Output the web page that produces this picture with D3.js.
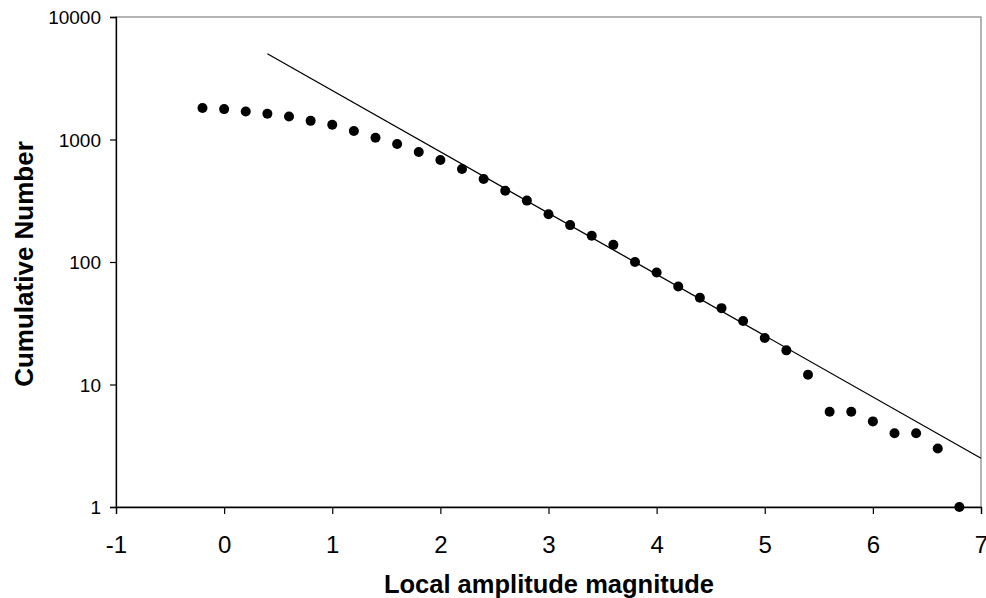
<!DOCTYPE html>
<html>
<head>
<meta charset="utf-8">
<script src="https://cdn.jsdelivr.net/npm/d3@7"></script>
<style>
  html, body { margin: 0; padding: 0; background: #fff; }
  svg { display: block; }
  text { font-family: "Liberation Sans", Arial, sans-serif; fill: #000; }
</style>
</head>
<body>
<svg id="chart" width="986" height="598"></svg>
<script>
const magnitudes = [-0.2, 0, 0.2, 0.4, 0.6, 0.8, 1.0, 1.2, 1.4, 1.6, 1.8, 2.0, 2.2, 2.4, 2.6, 2.8, 3.0, 3.2, 3.4, 3.6, 3.8, 4.0, 4.2, 4.4, 4.6, 4.8, 5.0, 5.2, 5.4, 5.6, 5.8, 6.0, 6.2, 6.4, 6.6, 6.8];
const cumulative = [1810, 1770, 1695, 1625, 1540, 1420, 1320, 1175, 1035, 920, 790, 680, 575, 476, 382, 317, 245, 200, 164, 138, 100, 82, 63, 51, 42, 33, 24, 19, 12, 6, 6, 5, 4, 4, 3, 1];
const fitX = [0.4, 7];
const fitY = [5010, 2.5];
const xTicks = [-1, 0, 1, 2, 3, 4, 5, 6, 7];
const yTicks = [1, 10, 100, 1000, 10000];
const xTitle = "Local amplitude magnitude";
const yTitle = "Cumulative Number";

const svg = d3.select("#chart");
const L = 116, R = 981, T = 17, B = 507;

const x = d3.scaleLinear().domain([-1, 7]).range([L, R]);
const y = d3.scaleLog().domain([1, 10000]).range([B, T]);

// plot area border (top/right gray)
svg.append("rect")
  .attr("x", L).attr("y", T).attr("width", R - L).attr("height", B - T)
  .attr("fill", "none").attr("stroke", "#8c8c8c").attr("stroke-width", 1.3);

// y axis
const yAxis = d3.axisLeft(y).tickValues(yTicks).tickFormat(d3.format("d")).tickSize(6).tickPadding(9);
const gy = svg.append("g").attr("transform", `translate(${L},0)`).call(yAxis);
gy.select(".domain").attr("stroke", "#000").attr("stroke-width", 1.3);
gy.selectAll(".tick line").attr("stroke", "#000").attr("stroke-width", 1.2);
gy.selectAll(".tick text").style("font-size", "19px").attr("dy", "0.35em");

// x axis
const xAxis = d3.axisBottom(x).tickValues(xTicks).tickFormat(d3.format("d")).tickSize(7).tickPadding(22);
const gx = svg.append("g").attr("transform", `translate(0,${B})`).call(xAxis);
gx.select(".domain").attr("stroke", "#000").attr("stroke-width", 1.3);
gx.selectAll(".tick line").attr("stroke", "#000").attr("stroke-width", 1.2);
gx.selectAll(".tick text").style("font-size", "24px").attr("dy", "0.71em");
gx.selectAll(".tick text").text(d => d < 0 ? "-" + Math.abs(d) : String(d));

// fit line
svg.append("path")
  .datum(fitX.map((d, i) => [d, fitY[i]]))
  .attr("d", d3.line().x(d => x(d[0])).y(d => y(d[1])))
  .attr("fill", "none").attr("stroke", "#000").attr("stroke-width", 1.3);

// points
svg.append("g").selectAll("circle")
  .data(magnitudes.map((m, i) => [m, cumulative[i]]))
  .join("circle")
  .attr("cx", d => x(d[0])).attr("cy", d => y(d[1])).attr("r", 5)
  .attr("fill", "#000");

// titles
svg.append("text")
  .attr("x", (L + R) / 2 + 0.5).attr("y", 593)
  .attr("text-anchor", "middle")
  .style("font-size", "25.5px").style("font-weight", "bold")
  .text(xTitle);

svg.append("text")
  .attr("transform", `translate(33,264) rotate(-90)`)
  .attr("text-anchor", "middle")
  .style("font-size", "26px").style("font-weight", "bold")
  .text(yTitle);
</script>
</body>
</html>
